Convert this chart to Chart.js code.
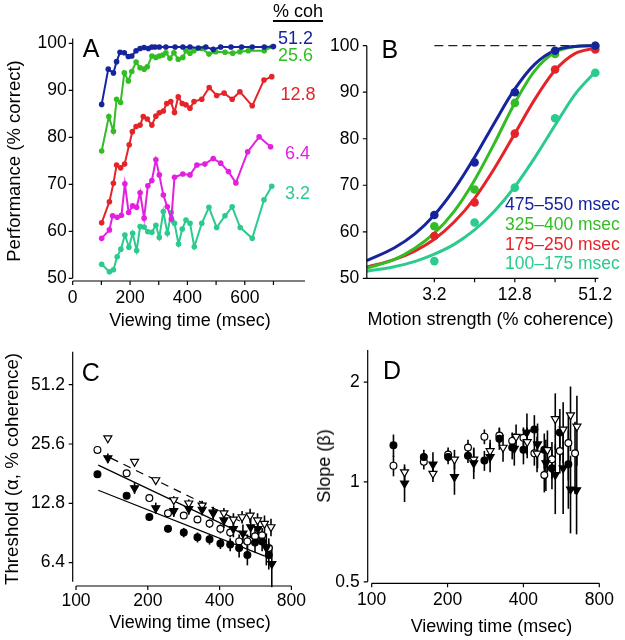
<!DOCTYPE html>
<html><head><meta charset="utf-8">
<script src="https://cdn.jsdelivr.net/npm/chart.js@4.4.1/dist/chart.umd.min.js"></script>
<style>
html,body{margin:0;padding:0;background:#fff;}
#wrap{position:relative;width:625px;height:640px;overflow:hidden;font-family:'Liberation Sans',Arial,Helvetica,sans-serif;color:#000;}
canvas{position:absolute;}
.t{position:absolute;white-space:nowrap;line-height:1;}
</style></head>
<body><div id="wrap">
<canvas id="cA"></canvas><canvas id="cB"></canvas><canvas id="cC"></canvas><canvas id="cD"></canvas>
</div>
<script>
const FONT = "'Liberation Sans', Arial, Helvetica, sans-serif";
const BLUE = '#16259c', GREEN = '#33bd25', RED = '#e5242a', MAGENTA = '#e41fe0', TEAL = '#2bca8d';

// ---------- Panel A: performance vs viewing time ----------
const timeA512 = [101,124,142,153,165,180,194,206,221,235,249,264,276,287,302,325,357,384,409,438,464,490,516,552,589,626,668,700];
const perfA512 = [87.0,94.5,93.7,96.1,98.1,98.0,97.2,97.3,98.4,98.9,99.1,98.9,99.2,99.2,99.2,99.2,99.2,99.2,99.2,99.0,99.2,98.7,99.2,99.2,99.2,99.2,99.2,99.3];
const timeA256 = [101,126,142,153,167,180,194,206,221,235,249,260,276,290,302,314,325,339,353,368,384,395,409,423,450,475,499,531,558,583,612,668,697];
const perfA256 = [77.1,84.4,81.3,88.1,87.4,93.7,92.0,94.0,96.0,94.8,94.5,95.0,97.3,97.0,97.3,97.5,98.0,96.8,98.0,96.6,97.0,98.4,97.9,98.4,98.9,97.7,98.2,98.1,97.9,98.2,98.4,98.4,99.3];
const timeA128 = [101,128,142,153,167,181,197,208,221,235,246,260,276,290,302,316,328,342,355,368,382,395,409,423,450,476,502,528,556,583,626,667,694];
const perfA128 = [61.8,66.3,70.2,74.1,73.5,74.3,78.4,81.2,82.3,82.6,84.4,83.9,82.6,84.5,85.2,85.6,87.2,87.6,85.3,88.6,87.2,86.9,86.2,87.6,88.1,90.6,88.9,89.4,88.1,89.7,86.7,92.2,92.9];
const timeA64 = [101,128,139,155,170,182,195,209,223,235,249,262,276,290,302,316,330,344,355,384,409,433,461,490,516,543,569,610,650,690];
const perfA64 = [58.5,60.3,63.3,63.0,63.4,70.1,64.0,65.4,65.1,68.2,62.8,69.7,70.8,75.2,72.0,67.7,65.2,62.6,71.5,72.2,72.0,74.1,74.3,75.5,74.5,72.7,70.3,76.9,80.1,78.0];
const timeA32 = [101,128,142,155,168,182,196,209,223,235,249,262,276,290,302,316,330,344,355,369,382,395,409,424,450,475,502,531,556,584,626,667,694];
const perfA32 = [53.0,51.4,51.8,54.6,56.2,59.2,56.6,59.6,55.9,61.0,60.9,59.9,59.8,61.3,58.7,64.2,59.6,64.0,61.7,57.3,60.5,62.4,61.7,56.7,61.7,65.1,60.8,63.3,65.2,60.8,58.5,66.7,69.6];
const yTicksA = [50,60,70,80,90,100];
const xLabelsA = [0,200,400,600];
const xMarksA = [0,100,200,300,400,500,600,700];

// ---------- Panel B: psychometric functions ----------
const cohPoints = [3.2,6.4,12.8,25.6,51.2];
const dotB475 = [63.6,74.9,90.0,98.9,100];
const dotB325 = [61.2,69.1,87.7,98.2,100];
const dotB175 = [59.1,66.3,81.1,94.9,99.2];
const dotB100 = [53.7,62.0,69.5,84.4,94.2];
const cohCurve = [1,1.6,2.3,3.2,4.5,6.4,9,12.8,18,25.6,36,51.2];
const curveB475 = [53.8,56.5,59.6,63.6,69.1,76.0,83.4,90.7,96.0,99.0,99.85,100];
const curveB325 = [52.2,54.0,56.5,59.7,64.4,71.1,79.0,87.7,94.6,98.6,99.8,100];
const curveB175 = [52.4,54.0,55.9,58.4,62.1,67.2,73.6,81.1,88.4,94.7,98.3,99.5];
const curveB100 = [51.5,52.5,53.65,55.2,57.3,60.4,64.4,69.7,75.9,82.9,89.5,94.4];
const refLineX = [3.2,51.2];
const refLineY = [100,100];
const yTicksB = [50,60,70,80,90,100];
const xLabelsB = [3.2,12.8,51.2];
const xMarksB = [3.2,6.4,12.8,25.6,51.2];

// ---------- Panel C: threshold vs viewing time ----------
const timeCCirc = [123,163,203,243,283,323,363,403,443,483,523,563,603,643];
const threshFilledCirc = [18.0,14.0,10.9,9.5,9.1,8.6,8.4,8.0,7.9,7.6,7.0,8.1,8.2,7.0];
const errFilledCirc = [0.5,0.4,0.4,0.4,0.5,0.5,0.5,0.5,0.6,0.8,0.8,0.9,0.9,1.1];
const threshOpenCirc = [23.9,18.2,13.6,11.4,11.1,10.6,10.1,9.5,9.1,8.2,8.2,8.7,8.8,7.6];
const errOpenCirc = [0.6,0.5,0.4,0.4,0.4,0.4,0.5,0.5,0.5,0.7,0.7,0.8,0.8,0.9];
const timeCFilledTri = [136,176,216,257,297,338,376,417,457,501,540,579,628,662];
const threshFilledTri = [21.7,15.3,12.1,11.7,12.0,11.9,11.4,10.5,9.5,9.0,9.7,9.5,7.6,6.3];
const errFilledTri = [1.2,1.0,0.8,0.8,0.8,0.8,0.9,0.9,0.9,1.0,1.1,1.2,1.4,1.5];
const timeCOpenTri = [136,176,216,257,297,338,376,417,457,497,537,577,617,657];
const threshOpenTri = [27.4,20.8,16.8,13.3,12.8,12.5,11.5,11.4,10.6,10.9,11.1,10.5,10.1,9.7];
const errOpenTri = [0.6,0.6,0.6,0.6,0.6,0.7,0.7,0.7,0.8,0.8,0.9,0.9,1.0,1.0];
const fitFilledCircX = [124,619], fitFilledCircY = [14.9,6.9];
const fitOpenCircX = [124,668], fitOpenCircY = [20.0,7.6];
const fitOpenTriX = [140,486], fitOpenTriY = [21.7,10.4];
const yTicksC = [6.4,12.8,25.6,51.2];
const xTicksCD = [100,200,400,800];

// ---------- Panel D: slope vs viewing time ----------
const timeDFilledCirc = [122,161,201,241,280,321,361,400,442,484,519,558,603];
const slopeFilledCirc = [1.29,1.19,1.19,1.20,1.16,1.35,1.27,1.25,1.44,1.25,1.10,1.41,1.13];
const errDFilledCirc = [0.10,0.06,0.06,0.06,0.08,0.10,0.10,0.12,0.15,0.15,0.15,0.25,0.30];
const timeDOpenCirc = [122,161,201,241,280,321,361,400,442,484,519,558,603,641];
const slopeOpenCirc = [1.12,1.15,1.21,1.27,1.37,1.38,1.33,1.36,1.22,1.05,1.17,1.24,1.31,1.22];
const errDOpenCirc = [0.08,0.06,0.06,0.07,0.07,0.08,0.08,0.10,0.10,0.12,0.15,0.18,0.30,0.30];
const timeDFilledTri = [135,175,213,254,295,368,413,455,491,535,575,615,650];
const slopeFilledTri = [0.99,1.13,1.035,1.14,1.19,1.26,1.41,1.30,1.14,1.05,1.10,0.95,0.945];
const errDFilledTri = [0.12,0.10,0.12,0.12,0.12,0.14,0.20,0.20,0.20,0.25,0.30,0.25,0.25];
const timeDOpenTri = [135,175,213,254,295,332,374,414,453,498,535,575,615,652];
const slopeOpenTri = [1.07,1.06,1.17,1.17,1.24,1.27,1.37,1.32,1.22,1.25,1.55,1.44,1.59,1.47];
const errDOpenTri = [0.06,0.06,0.08,0.10,0.10,0.12,0.12,0.14,0.15,0.18,0.30,0.30,0.35,0.35];
const yTicksD = [0.5,1,2];

// ---------- helpers ----------
Chart.defaults.font.family = FONT;
const pts = (xs, ys) => xs.map((x, i) => ({x: x, y: ys[i]}));
const Y_AXIS_W = {}; const X_AXIS_H = 38;

function scale(type, min, max, labels, pad, isX, chartId) {
  return {
    type: type, min: min, max: max, bounds: 'data', position: isX ? 'bottom' : 'left', offset: false,
    grid: {display: false, drawTicks: false, tickLength: 0},
    border: {display: false},
    ticks: {padding: pad, color: '#000', font: {family: FONT, size: 17.5}, autoSkip: false,
            maxRotation: 0, minRotation: 0, callback: (v) => String(v)},
    afterBuildTicks: (s) => { s.ticks = labels.map(v => ({value: v})); },
    afterFit: (s) => { if (isX) s.height = X_AXIS_H; else s.width = Y_AXIS_W[chartId]; }
  };
}

function axesPlugin(o) {
  return {
    id: 'axesDraw',
    afterDraw(chart) {
      const ctx = chart.ctx, x = chart.scales.x, y = chart.scales.y, ca = chart.chartArea;
      ctx.save();
      ctx.strokeStyle = '#000'; ctx.lineWidth = 1.2;
      ctx.beginPath();
      const yx = ca.left - o.yOff;
      ctx.moveTo(yx, y.getPixelForValue(o.yFrom)); ctx.lineTo(yx, y.getPixelForValue(o.yTo));
      o.yMarks.forEach(v => { const p = y.getPixelForValue(v); ctx.moveTo(yx, p); ctx.lineTo(yx - 4, p); });
      const xy = ca.bottom + o.xOff;
      ctx.moveTo(x.getPixelForValue(o.xFrom), xy); ctx.lineTo(x.getPixelForValue(o.xTo), xy);
      o.xMarks.forEach(v => { const p = x.getPixelForValue(v); ctx.moveTo(p, xy); ctx.lineTo(p, xy + 4); });
      ctx.stroke();
      ctx.restore();
    }
  };
}

const errorBarPlugin = {
  id: 'errbars',
  beforeDatasetsDraw(chart) {
    const ctx = chart.ctx, ys = chart.scales.y;
    chart.data.datasets.forEach((ds, i) => {
      if (!ds.errors) return;
      const meta = chart.getDatasetMeta(i);
      ctx.save(); ctx.strokeStyle = '#000'; ctx.lineWidth = 1.6;
      meta.data.forEach((pt, j) => {
        const v = ds.data[j].y, e = ds.errors[j];
        ctx.beginPath();
        ctx.moveTo(pt.x, ys.getPixelForValue(v + e));
        ctx.lineTo(pt.x, ys.getPixelForValue(v - e));
        ctx.stroke();
      });
      ctx.restore();
    });
  }
};

function makeChart(id, box, area, cfg, plugins) {
  const c = document.getElementById(id);
  c.width = box.w; c.height = box.h;
  c.style.left = box.x + 'px'; c.style.top = box.y + 'px';
  c.style.width = box.w + 'px'; c.style.height = box.h + 'px';
  const yw = Y_AXIS_W[id];
  cfg.options.responsive = false;
  cfg.options.animation = false;
  cfg.options.devicePixelRatio = 1;
  cfg.options.events = [];
  cfg.options.plugins = {legend: {display: false}, tooltip: {enabled: false}};
  cfg.options.layout = {autoPadding: false, padding: {
    left: area.l - box.x - yw, top: area.t - box.y, right: box.x + box.w - area.r,
    bottom: box.y + box.h - area.b - X_AXIS_H}};
  cfg.plugins = plugins;
  return new Chart(c, cfg);
}

// ---------- Chart A ----------
Y_AXIS_W.cA = 70;
const seriesA = [
  {t: timeA512, v: perfA512, c: BLUE},
  {t: timeA256, v: perfA256, c: GREEN},
  {t: timeA128, v: perfA128, c: RED},
  {t: timeA64, v: perfA64, c: MAGENTA},
  {t: timeA32, v: perfA32, c: TEAL}
];
makeChart('cA', {x: 0, y: 0, w: 315, h: 320}, {l: 72.7, t: 38.6, r: 305, b: 278.3}, {
  type: 'scatter',
  data: {datasets: seriesA.map(s => ({data: pts(s.t, s.v), showLine: true, borderColor: s.c,
    backgroundColor: s.c, borderWidth: 2, pointRadius: 2.8, pointBorderWidth: 0, pointBackgroundColor: s.c, clip: false}))},
  options: {scales: {x: scale('linear', 0, 810, xLabelsA, 9.5, true, 'cA'), y: scale('linear', 50, 101, yTicksA, 6, false, 'cA')}}
}, [axesPlugin({yOff: 0, yFrom: 101, yTo: 50, yMarks: yTicksA, xOff: 2.7, xFrom: 0, xTo: 810, xMarks: xMarksA})]);

// ---------- Chart B ----------
Y_AXIS_W.cB = 50;
const seriesB = [
  {curve: curveB475, dots: dotB475, c: BLUE},
  {curve: curveB325, dots: dotB325, c: GREEN},
  {curve: curveB175, dots: dotB175, c: RED},
  {curve: curveB100, dots: dotB100, c: TEAL}
];
const dsB = [];
seriesB.forEach(s => {
  dsB.push({data: pts(cohPoints, s.dots), showLine: false, pointRadius: 4.3, pointBorderWidth: 0,
    pointBackgroundColor: s.c, backgroundColor: s.c, clip: false});
});
seriesB.forEach(s => {
  dsB.push({data: pts(cohCurve, s.curve), showLine: true, pointRadius: 0, borderWidth: 3,
    borderColor: s.c, cubicInterpolationMode: 'monotone', clip: false});
});
dsB.push({data: pts(refLineX, refLineY), showLine: true, pointRadius: 0, borderWidth: 1.3,
  borderColor: '#222', borderDash: [9, 5], clip: false});
makeChart('cB', {x: 315, y: 0, w: 310, h: 320}, {l: 366.8, t: 45.7, r: 598.4, b: 278.3}, {
  type: 'scatter',
  data: {datasets: dsB},
  options: {scales: {x: scale('logarithmic', 1, 54, xLabelsB, 6.5, true, 'cB'), y: scale('linear', 50, 100, yTicksB, 7.5, false, 'cB')}}
}, [axesPlugin({yOff: 0, yFrom: 100, yTo: 50, yMarks: yTicksB, xOff: 0, xFrom: 1, xTo: 54, xMarks: xMarksB})]);

// ---------- marker styles ----------
function markerSet(xs, ys, errs, filled, tri) {
  return {data: pts(xs, ys), errors: errs, showLine: false,
    pointStyle: tri ? 'triangle' : 'circle', pointRotation: tri ? 180 : 0,
    pointRadius: tri ? 4.6 : 3.4, pointBorderWidth: 1.2, pointBorderColor: '#000',
    pointBackgroundColor: filled ? '#000' : '#fff', clip: false};
}
function fitLine(xs, ys, dash) {
  return {data: pts(xs, ys), showLine: true, pointRadius: 0, borderWidth: 1.2, borderColor: '#000',
    borderDash: dash ? [8, 6] : [], clip: false};
}

// ---------- Chart C ----------
Y_AXIS_W.cC = 72;
makeChart('cC', {x: 0, y: 320, w: 315, h: 320}, {l: 76, t: 351.7, r: 305, b: 581.7}, {
  type: 'scatter',
  data: {datasets: [
    markerSet(timeCFilledTri, threshFilledTri, errFilledTri, true, true),
    markerSet(timeCOpenTri, threshOpenTri, errOpenTri, false, true),
    markerSet(timeCCirc, threshFilledCirc, errFilledCirc, true, false),
    markerSet(timeCCirc, threshOpenCirc, errOpenCirc, false, false),
    fitLine(fitFilledCircX, fitFilledCircY, false),
    fitLine(fitOpenCircX, fitOpenCircY, false),
    fitLine(fitOpenTriX, fitOpenTriY, true)
  ]},
  options: {scales: {x: scale('logarithmic', 100, 800, xTicksCD, 9, true, 'cC'), y: scale('logarithmic', 5.12, 75.3, yTicksC, 11, false, 'cC')}}
}, [errorBarPlugin, axesPlugin({yOff: 3.3, yFrom: 75.3, yTo: 5.12, yMarks: yTicksC, xOff: 4.3, xFrom: 100, xTo: 800, xMarks: xTicksCD})]);

// ---------- Chart D ----------
Y_AXIS_W.cD = 54;
makeChart('cD', {x: 315, y: 320, w: 310, h: 320}, {l: 371.7, t: 350, r: 599.3, b: 581.8}, {
  type: 'scatter',
  data: {datasets: [
    markerSet(timeDFilledTri, slopeFilledTri, errDFilledTri, true, true),
    markerSet(timeDOpenTri, slopeOpenTri, errDOpenTri, false, true),
    markerSet(timeDFilledCirc, slopeFilledCirc, errDFilledCirc, true, false),
    markerSet(timeDOpenCirc, slopeOpenCirc, errDOpenCirc, false, false)
  ]},
  options: {scales: {x: scale('logarithmic', 100, 800, xTicksCD, 8, true, 'cD'), y: scale('logarithmic', 0.5, 2.5, yTicksD, 12, false, 'cD')}}
}, [errorBarPlugin, axesPlugin({yOff: 4, yFrom: 2.5, yTo: 0.5, yMarks: yTicksD, xOff: 1.5, xFrom: 100, xTo: 800, xMarks: xTicksCD})]);

// ---------- text annotations ----------
const wrap = document.getElementById('wrap');
function label(text, x, y, size, color, mode, extra) {
  const d = document.createElement('div');
  d.className = 't';
  d.textContent = text;
  d.style.left = x + 'px'; d.style.top = y + 'px';
  d.style.fontSize = size + 'px'; d.style.color = color || '#000';
  if (mode === 'center') d.style.transform = 'translate(-50%,-50%)';
  else if (mode === 'rot') d.style.transform = 'translate(-50%,-50%) rotate(-90deg)';
  else d.style.transform = 'translate(0,-50%)';
  if (extra) Object.assign(d.style, extra);
  wrap.appendChild(d);
}
label('A', 82.7, 47.5, 25, '#000', 'left');
label('B', 381.5, 48.5, 25, '#000', 'left');
label('C', 81.7, 371.5, 25, '#000', 'left');
label('D', 383, 370, 25, '#000', 'left');
label('% coh', 273, 10.5, 18, '#000', 'left', {textDecoration: 'underline', textDecorationThickness: '1.5px', textUnderlineOffset: '3px'});
label('51.2', 278, 37.5, 18, BLUE, 'left');
label('25.6', 278, 55, 18, GREEN, 'left');
label('12.8', 280.5, 93.5, 18, RED, 'left');
label('6.4', 285, 153, 18, MAGENTA, 'left');
label('3.2', 285, 192.5, 18, TEAL, 'left');
label('475–550 msec', 505, 205, 17.5, BLUE, 'left');
label('325–400 msec', 505, 225, 17.5, GREEN, 'left');
label('175–250 msec', 505, 244.5, 17.5, RED, 'left');
label('100–175 msec', 505, 263.5, 17.5, TEAL, 'left');
label('Viewing time (msec)', 190, 320, 18, '#000', 'center');
label('Motion strength (% coherence)', 490.5, 319, 18, '#000', 'center');
label('Viewing time (msec)', 190, 622, 18, '#000', 'center');
label('Viewing time (msec)', 491.5, 626, 18, '#000', 'center');
label('Performance (% correct)', 14, 161, 18.5, '#000', 'rot');
label('Threshold (α, % coherence)', 12, 469, 18.8, '#000', 'rot');
label('Slope (β)', 324, 466, 18, '#000', 'rot');
</script>
</body></html>
